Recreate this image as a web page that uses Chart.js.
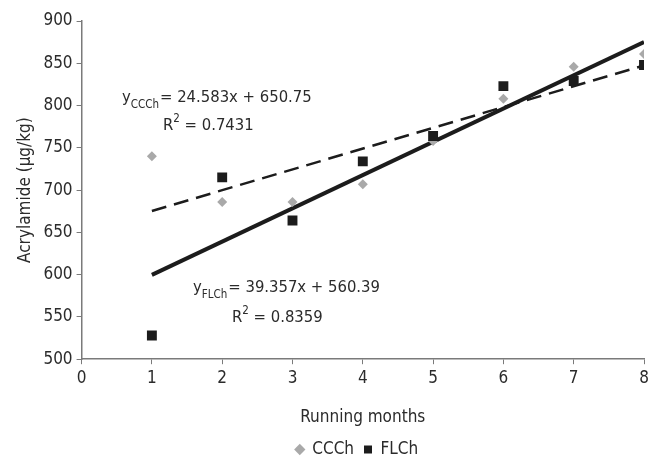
<!DOCTYPE html>
<html>
<head>
<meta charset="utf-8">
<script src="https://cdn.jsdelivr.net/npm/chart.js@4"></script>
<style>
  html, body { margin: 0; padding: 0; background: #fff; overflow: hidden; }
  #wrap { width: 651px; height: 457px; overflow: hidden; }
</style>
</head>
<body>
<div id="wrap"><canvas id="chart" width="651" height="468"></canvas></div>
<script>
// Running months
const months = [1, 2, 3, 4, 5, 6, 7, 8];
// Acrylamide (µg/kg)
const ccchValues = [740, 686, 686, 707, 758, 808, 846, 861];
const flchValues = [528, 715, 664, 734, 764, 823, 829, 848];
// Trend line end points (x = 1 and x = 8)
const trendX = [1, 8];
const ccchTrend = [675.3, 847.4];
const flchTrend = [599.7, 875.2];
const yTicks = [500, 550, 600, 650, 700, 750, 800, 850, 900];

const FONT = '"DejaVu Sans Condensed", "Liberation Sans", sans-serif';

const toPoints = (xs, ys) => xs.map((x, i) => ({ x: x, y: ys[i] }));

// Draws the two regression equations
const equationPlugin = {
  id: 'equations',
  afterLayout(chart) {
    // legend sits a bit right of centre in the original
    chart.legend.left += 24;
    chart.legend.right += 24;
  },
  afterDraw(chart) {
    const ctx = chart.ctx;
    ctx.save();
    ctx.fillStyle = '#2b2b2b';
    ctx.textBaseline = 'alphabetic';
    const big = '16.5px ' + FONT;
    const small = '11.5px ' + FONT;

    const eq = (x, y, sub, rest) => {
      ctx.font = big;
      ctx.fillText('y', x, y);
      let w = ctx.measureText('y').width;
      ctx.font = small;
      ctx.fillText(sub, x + w, y + 6);
      w += ctx.measureText(sub).width;
      ctx.font = big;
      ctx.fillText(rest, x + w + 1, y);
    };
    const r2 = (x, y, val) => {
      ctx.font = big;
      ctx.fillText('R', x, y);
      let w = ctx.measureText('R').width;
      ctx.font = small;
      ctx.fillText('2', x + w, y - 8);
      w += ctx.measureText('2').width;
      ctx.font = big;
      ctx.fillText(' = ' + val, x + w, y);
    };

    eq(122, 102, 'CCCh', '= 24.583x + 650.75');
    r2(163, 130, '0.7431');
    eq(193, 292, 'FLCh', '= 39.357x + 560.39');
    r2(232, 322, '0.8359');
    ctx.restore();
  }
};

new Chart(document.getElementById('chart'), {
  type: 'scatter',
  data: {
    datasets: [
      {
        label: 'CCCh',
        data: toPoints(months, ccchValues),
        pointStyle: 'rectRot',
        pointRadius: 5,
        backgroundColor: '#a9a9a9',
        borderColor: '#a9a9a9',
        borderWidth: 0,
        order: 1
      },
      {
        label: 'FLCh',
        data: toPoints(months, flchValues),
        pointStyle: 'rect',
        pointRadius: 7,
        backgroundColor: '#1c1c1c',
        borderColor: '#1c1c1c',
        borderWidth: 0,
        order: 0
      },
      {
        label: 'trend CCCh',
        type: 'line',
        data: toPoints(trendX, ccchTrend),
        borderColor: '#1c1c1c',
        borderWidth: 2.5,
        borderDash: [15, 8],
        pointRadius: 0,
        fill: false,
        order: 2
      },
      {
        label: 'trend FLCh',
        type: 'line',
        data: toPoints(trendX, flchTrend),
        borderColor: '#1c1c1c',
        borderWidth: 4,
        pointRadius: 0,
        fill: false,
        order: 3
      }
    ]
  },
  options: {
    responsive: false,
    animation: false,
    layout: { padding: { left: 15, right: 0, top: 21, bottom: 0 } },
    plugins: {
      tooltip: { enabled: false },
      legend: {
        position: 'bottom',
        labels: {
          usePointStyle: true,
          boxWidth: 8,
          boxHeight: 8,
          padding: 10,
          color: '#2b2b2b',
          font: { family: FONT, size: 17 },
          sort: (a, b) => a.datasetIndex - b.datasetIndex,
          filter: item => !item.text.startsWith('trend')
        }
      }
    },
    scales: {
      x: {
        type: 'linear',
        min: 0,
        max: 8,
        afterFit: scale => { scale.paddingRight = 4; },
        ticks: { stepSize: 1, color: '#2b2b2b', font: { family: FONT, size: 17 }, padding: 4 },
        grid: { drawOnChartArea: false, drawTicks: true, tickLength: 5, color: '#7a7a7a' },
        border: { color: '#7a7a7a', width: 1.5 },
        title: { display: true, text: 'Running months', color: '#2b2b2b', font: { family: FONT, size: 17 }, padding: { top: 15, bottom: 3 } }
      },
      y: {
        min: 500,
        max: 900,
        afterBuildTicks: axis => { axis.ticks = yTicks.map(v => ({ value: v })); },
        ticks: { color: '#2b2b2b', font: { family: FONT, size: 17 }, padding: 4 },
        grid: { drawOnChartArea: false, drawTicks: true, tickLength: 5, color: '#7a7a7a' },
        border: { color: '#7a7a7a', width: 1.5 },
        title: { display: true, text: 'Acrylamide (\u03bcg/kg)', color: '#2b2b2b', font: { family: FONT, size: 17 }, padding: { top: 0, bottom: 4 } }
      }
    }
  },
  plugins: [equationPlugin]
});
</script>
</body>
</html>
